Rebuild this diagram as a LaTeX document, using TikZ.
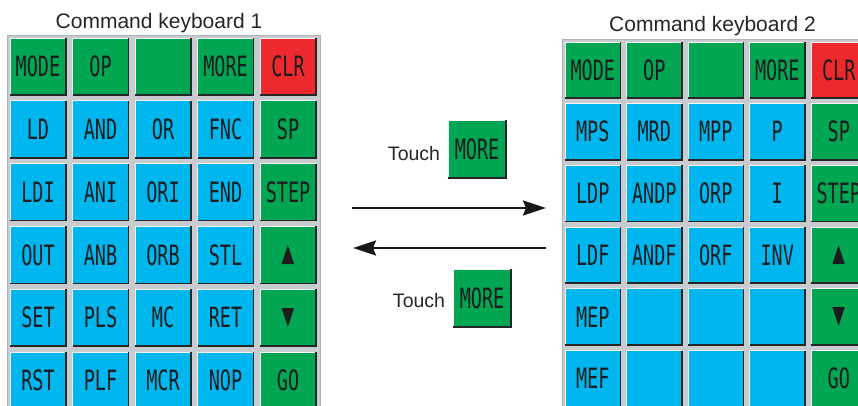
\documentclass[tikz,border=0pt]{standalone}
\usepackage{fontspec}
\setmainfont{Liberation Sans}
\newfontfamily\keyfont{DejaVu Sans Mono}
\newfontfamily\symfont{DejaVu Sans}
\usepackage{graphicx}
\usetikzlibrary{arrows.meta,positioning}
\definecolor{keygreen}{RGB}{0,166,81}
\definecolor{keycyan}{RGB}{0,182,238}
\definecolor{keyred}{RGB}{237,41,46}
\definecolor{keyink}{RGB}{28,28,30}
\definecolor{framegrey}{RGB}{200,204,209}
\newcommand{\keytxt}[1]{\scalebox{0.66}[1]{#1}}
\newcommand{\keyup}{{\symfont\fontsize{25}{25}\selectfont ▲}}
\newcommand{\keydown}{{\symfont\fontsize{25}{25}\selectfont ▼}}
\tikzset{
  keybox/.style={fill=#1, draw=none, inner sep=0pt, outer sep=0pt, anchor=north west, text=keyink, font=\keyfont\fontsize{28}{28}\selectfont},
  keylight/.style={draw=white!80!framegrey, line width=1pt},
  keyshade/.style={draw=black!85, line width=1.6pt},
  panel/.style={fill=framegrey, draw=black!30, line width=0.8pt},
  title/.style={font=\fontsize{21}{24}\selectfont, text=black!85, anchor=base},
  note/.style={font=\fontsize{19.5}{22}\selectfont, text=black!85, anchor=base},
  flow/.style={-{Stealth[length=23pt,width=15pt,inset=3pt]}, line width=2.4pt, black!90}
}

\begin{document}
\begin{tikzpicture}[x=1pt,y=-1pt]
  \useasboundingbox (0,0) rectangle (858,405);
  \clip (0,0) rectangle (858,405);
  % keyboard panels
  \fill[panel] (7,35) rectangle (320,420);
  \fill[panel] (562,39) rectangle (880,420);
  \node[title] (titleA) at (159,28.3) {Command keyboard 1};
  \node[title] (titleB) at (712.5,31.7) {Command keyboard 2};
  % keyboard 1
  \foreach \lbl/\clr [count=\i from 0] in {MODE/keygreen, OP/keygreen, {}/keygreen, MORE/keygreen, CLR/keyred,
      LD/keycyan, AND/keycyan, OR/keycyan, FNC/keycyan, SP/keygreen,
      LDI/keycyan, ANI/keycyan, ORI/keycyan, END/keycyan, STEP/keygreen,
      OUT/keycyan, ANB/keycyan, ORB/keycyan, STL/keycyan, \keyup/keygreen,
      SET/keycyan, PLS/keycyan, MC/keycyan, RET/keycyan, \keydown/keygreen,
      RST/keycyan, PLF/keycyan, MCR/keycyan, NOP/keycyan, GO/keygreen}{
    \pgfmathtruncatemacro{\kc}{mod(\i,5)}
    \pgfmathtruncatemacro{\kr}{int(\i/5)}
    \node[keybox=\clr, minimum width=56pt, minimum height=57pt] (kbA-\i) at ({10+62.5*\kc},{38+62.8*\kr}) {\keytxt{\lbl}};
    \draw[keylight] (kbA-\i.south west) -- (kbA-\i.north west) -- (kbA-\i.north east);
    \draw[keyshade] (kbA-\i.south west) -- (kbA-\i.south east) -- (kbA-\i.north east);
  }
  % keyboard 2
  \foreach \lbl/\clr [count=\i from 0] in {MODE/keygreen, OP/keygreen, {}/keygreen, MORE/keygreen, CLR/keyred,
      MPS/keycyan, MRD/keycyan, MPP/keycyan, P/keycyan, SP/keygreen,
      LDP/keycyan, ANDP/keycyan, ORP/keycyan, I/keycyan, STEP/keygreen,
      LDF/keycyan, ANDF/keycyan, ORF/keycyan, INV/keycyan, \keyup/keygreen,
      MEP/keycyan, {}/keycyan, {}/keycyan, {}/keycyan, \keydown/keygreen,
      MEF/keycyan, {}/keycyan, {}/keycyan, {}/keycyan, GO/keygreen}{
    \pgfmathtruncatemacro{\kc}{mod(\i,5)}
    \pgfmathtruncatemacro{\kr}{int(\i/5)}
    \node[keybox=\clr, minimum width=55.5pt, minimum height=56pt] (kbB-\i) at ({565+61.5*\kc},{42+61.7*\kr}) {\keytxt{\lbl}};
    \draw[keylight] (kbB-\i.south west) -- (kbB-\i.north west) -- (kbB-\i.north east);
    \draw[keyshade] (kbB-\i.south west) -- (kbB-\i.south east) -- (kbB-\i.north east);
  }
  % switching between the two keyboards
  \node[keybox=keygreen, minimum width=58pt, minimum height=58pt] (moreA) at (448,120) {\keytxt{MORE}};
  \node[keybox=keygreen, minimum width=58pt, minimum height=58pt] (moreB) at (453,269) {\keytxt{MORE}};
  \foreach \k in {moreA,moreB}{
    \draw[keylight] (\k.south west) -- (\k.north west) -- (\k.north east);
    \draw[keyshade] (\k.south west) -- (\k.south east) -- (\k.north east);
  }
  \node[note] (touchA) at (414,160) {Touch};
  \node[note] (touchB) at (419,307) {Touch};
  \coordinate (fwdA) at (352,208);
  \coordinate (fwdB) at (546,208);
  \coordinate (backA) at (546,248);
  \coordinate (backB) at (353,248);
  \draw[flow] (fwdA) -- (fwdB);
  \draw[flow] (backA) -- (backB);
\end{tikzpicture}
\end{document}
